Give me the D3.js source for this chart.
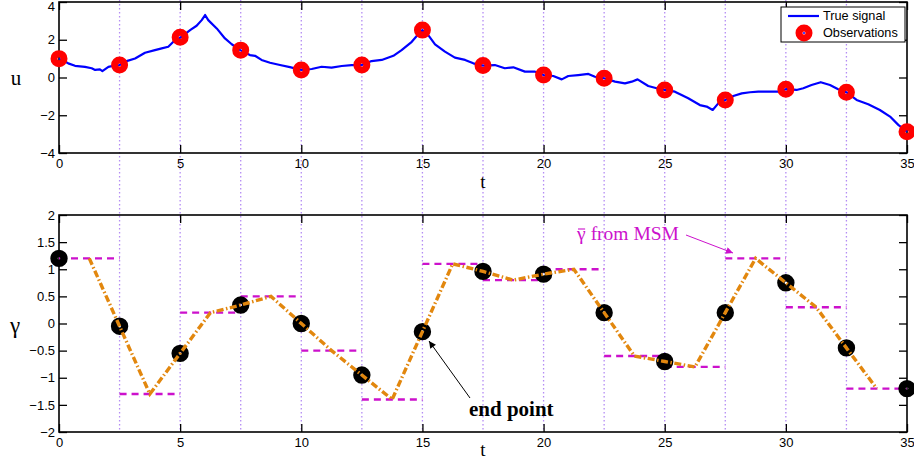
<!DOCTYPE html>
<html>
<head>
<meta charset="utf-8">
<script src="https://cdn.jsdelivr.net/npm/d3@7"></script>
<style>
  html, body { margin: 0; padding: 0; background: #fff; }
  svg { display: block; }
  .tick text { font-family: "Liberation Sans", Arial, sans-serif; font-size: 13px; fill: #000; }
</style>
</head>
<body>
<svg id="chart" width="914" height="464"></svg>
<script>
// ---- data ----
// true signal u(t)
const signalT = [0, 0.38, 0.66, 1.07, 1.35, 1.49, 1.69, 1.79, 2.04, 2.24, 2.5, 2.79, 3.14, 3.55, 3.96, 4.24, 4.51, 4.72, 5.03, 5.41, 5.68, 5.89, 6.03, 6.16, 6.51, 6.85, 7.13, 7.48, 7.88, 8.09, 8.36, 8.71, 9.12, 9.53, 10.0, 10.43, 10.84, 11.25, 11.67, 12.08, 12.5, 12.9, 13.32, 13.8, 14.14, 14.56, 14.8, 15.0, 15.24, 15.52, 15.93, 16.34, 16.76, 17.1, 17.5, 17.99, 18.4, 18.75, 19.23, 19.65, 20.0, 20.4, 20.75, 21.02, 21.43, 21.85, 22.12, 22.5, 22.95, 23.36, 23.64, 23.88, 24.32, 24.67, 25.0, 25.42, 25.97, 26.45, 26.73, 26.98, 27.21, 27.5, 27.83, 28.18, 28.52, 28.86, 29.34, 29.69, 30.0, 30.44, 30.72, 31.06, 31.44, 31.82, 32.16, 32.5, 32.92, 33.4, 33.88, 34.3, 34.64, 35.0];
const signalU = [1.0, 0.75, 0.62, 0.56, 0.49, 0.40, 0.43, 0.34, 0.56, 0.62, 0.66, 0.87, 1.01, 1.31, 1.45, 1.54, 1.63, 1.89, 2.13, 2.51, 2.74, 3.04, 3.31, 3.04, 2.6, 2.07, 1.76, 1.45, 1.19, 1.15, 0.93, 0.78, 0.66, 0.55, 0.40, 0.45, 0.57, 0.52, 0.61, 0.66, 0.66, 0.87, 0.93, 1.15, 1.45, 1.89, 2.25, 2.51, 2.25, 1.76, 1.37, 1.05, 0.93, 0.75, 0.63, 0.66, 0.49, 0.54, 0.31, 0.31, 0.13, 0.08, -0.10, 0.08, 0.13, 0.19, 0.04, -0.04, -0.22, -0.31, -0.22, -0.10, -0.45, -0.57, -0.66, -0.75, -1.10, -1.46, -1.54, -1.72, -1.37, -1.19, -0.98, -0.84, -0.78, -0.75, -0.75, -0.75, -0.62, -0.66, -0.57, -0.40, -0.25, -0.40, -0.62, -0.78, -1.19, -1.42, -1.72, -2.07, -2.51, -2.87];

// observation times and observed values
const obsT = [0, 2.5, 5, 7.5, 10, 12.5, 15, 17.5, 20, 22.5, 25, 27.5, 30, 32.5, 35];
const obsU = [1.0, 0.66, 2.13, 1.45, 0.40, 0.66, 2.51, 0.63, 0.13, -0.04, -0.66, -1.19, -0.62, -0.78, -2.87];

// gamma at observation times
const gammaObs = [1.2, -0.05, -0.55, 0.34, 0.0, -0.95, -0.15, 0.96, 0.91, 0.2, -0.7, 0.2, 0.75, -0.45, -1.2];
// interval averages of gamma from MSM, one per interval [obsT[i], obsT[i+1]]
const gammaBar = [1.2, -1.3, 0.2, 0.5, -0.5, -1.4, 1.1, 0.8, 1.0, -0.6, -0.8, 1.2, 0.3, -1.2];
// reconstructed gamma path
const recT = [1.25, 2.5, 3.75, 5, 6.25, 7.5, 8.75, 10, 11.25, 12.5, 13.75, 15, 16.25, 17.5, 18.75, 20, 21.25, 22.5, 23.75, 25, 26.25, 27.5, 28.75, 30, 31.25, 32.5, 33.75];
const recG = [1.2, -0.05, -1.3, -0.55, 0.2, 0.34, 0.5, 0.0, -0.5, -0.95, -1.4, -0.15, 1.1, 0.96, 0.8, 0.91, 1.0, 0.2, -0.6, -0.7, -0.8, 0.2, 1.2, 0.75, 0.3, -0.45, -1.2];

// axis ticks
const tTicks = [0, 5, 10, 15, 20, 25, 30, 35];
const uTicks = [-4, -2, 0, 2, 4];
const gTicks = [-2, -1.5, -1, -0.5, 0, 0.5, 1, 1.5, 2];
const gridT = [2.5, 5, 7.5, 10, 12.5, 15, 17.5, 20, 22.5, 25, 27.5, 30, 32.5];

// ---- layout ----
const svg = d3.select("#chart");
const x = d3.scaleLinear().domain([0, 35]).range([59, 907]);
const yU = d3.scaleLinear().domain([-4, 4]).range([153, 2]);
const yG = d3.scaleLinear().domain([-2, 2]).range([432, 215]);

const BLUE = "#0000ff", RED = "#ff0000", MAG = "#cc11cc", ORANGE = "#e2870e", GRID = "#b48cf4";

function drawAxes(y, ticks, fmt) {
  const g = svg.append("g");
  const top = y.range()[1], bottom = y.range()[0];
  g.append("g").attr("transform", `translate(0,${bottom})`)
    .call(d3.axisBottom(x).tickValues(tTicks).tickSize(-8).tickPadding(6).tickFormat(d3.format("d")));
  g.append("g").attr("transform", `translate(0,${top})`)
    .call(d3.axisTop(x).tickValues(tTicks).tickSize(-8).tickFormat(""));
  const left = g.append("g").attr("transform", `translate(${x.range()[0]},0)`)
    .call(d3.axisLeft(y).tickValues(ticks).tickSize(-8).tickPadding(4).tickFormat(fmt));
  g.append("g").attr("transform", `translate(${x.range()[1]},0)`)
    .call(d3.axisRight(y).tickValues(ticks).tickSize(-8).tickFormat(""));
  g.selectAll(".domain").remove();
  g.selectAll(".tick line").attr("stroke", "#000").attr("stroke-width", 1.3);
  g.append("rect").attr("x", x.range()[0]).attr("y", top)
    .attr("width", x.range()[1] - x.range()[0]).attr("height", bottom - top)
    .attr("fill", "none").attr("stroke", "#000").attr("stroke-width", 1.6);
  return left;
}

// vertical dotted lines at observation times, spanning both panels
svg.append("g").selectAll("line").data(gridT).join("line")
  .attr("x1", d => x(d)).attr("x2", d => x(d))
  .attr("y1", 0).attr("y2", yG(-2))
  .attr("stroke", GRID).attr("stroke-width", 1.3).attr("stroke-dasharray", "1.6,2.4");

// ---- top panel: u ----
const leftU = drawAxes(yU, uTicks, d3.format("d"));
// keep the topmost label inside the canvas
leftU.selectAll(".tick text").filter(d => d === 4).attr("dy", "0.62em");

const sig = signalT.map((t, i) => [t, signalU[i]]);
svg.append("path").datum(sig)
  .attr("d", d3.line().x(d => x(d[0])).y(d => yU(d[1])))
  .attr("fill", "none").attr("stroke", BLUE).attr("stroke-width", 2.2).attr("stroke-linejoin", "round");

svg.append("g").selectAll("circle").data(obsT.map((t, i) => [t, obsU[i]])).join("circle")
  .attr("cx", d => x(d[0])).attr("cy", d => yU(d[1])).attr("r", 5)
  .attr("fill", "none").attr("stroke", RED).attr("stroke-width", 7);

// legend
const lg = svg.append("g");
lg.append("rect").attr("x", 781).attr("y", 7).attr("width", 124).attr("height", 35)
  .attr("fill", "#fff").attr("stroke", "#000").attr("stroke-width", 1);
lg.append("line").attr("x1", 788).attr("x2", 819).attr("y1", 16).attr("y2", 16)
  .attr("stroke", BLUE).attr("stroke-width", 2.2);
lg.append("circle").attr("cx", 804).attr("cy", 33).attr("r", 5)
  .attr("fill", "none").attr("stroke", RED).attr("stroke-width", 7);
lg.append("circle").attr("cx", 804).attr("cy", 33).attr("r", 1).attr("fill", BLUE);
lg.selectAll("text").data([["True signal", 16], ["Observations", 33]]).join("text")
  .attr("x", 823).attr("y", d => d[1]).attr("dy", "0.35em")
  .attr("font-family", "Liberation Sans, Arial, sans-serif").attr("font-size", 12.7)
  .text(d => d[0]);

// axis titles, top panel
svg.append("text").attr("x", 16).attr("y", 85).attr("text-anchor", "middle")
  .attr("font-family", "Liberation Serif, serif").attr("font-size", 21).text("u");
svg.append("text").attr("x", 483).attr("y", 188).attr("text-anchor", "middle")
  .attr("font-family", "Liberation Serif, serif").attr("font-size", 19).text("t");

// ---- bottom panel: gamma ----
drawAxes(yG, gTicks, d => d3.format("")(d));

// MSM interval averages
svg.append("g").selectAll("line").data(gammaBar).join("line")
  .attr("x1", (d, i) => x(obsT[i])).attr("x2", (d, i) => x(obsT[i + 1]))
  .attr("y1", d => yG(d)).attr("y2", d => yG(d))
  .attr("stroke", MAG).attr("stroke-width", 2.4).attr("stroke-dasharray", "7,5");

// gamma at observation times
svg.append("g").selectAll("circle").data(obsT.map((t, i) => [t, gammaObs[i]])).join("circle")
  .attr("cx", d => x(d[0])).attr("cy", d => yG(d[1])).attr("r", 5)
  .attr("fill", "none").attr("stroke", "#000").attr("stroke-width", 7.4);

// reconstructed gamma path
svg.append("path").datum(recT.map((t, i) => [t, recG[i]]))
  .attr("d", d3.line().x(d => x(d[0])).y(d => yG(d[1])))
  .attr("fill", "none").attr("stroke", ORANGE).attr("stroke-width", 3.4)
  .attr("stroke-dasharray", "7,2.5,1.5,2.5");

// axis titles, bottom panel
svg.append("text").attr("x", 15).attr("y", 333).attr("text-anchor", "middle")
  .attr("font-family", "Liberation Serif, serif").attr("font-size", 23).text("γ");
svg.append("text").attr("x", 483).attr("y", 456).attr("text-anchor", "middle")
  .attr("font-family", "Liberation Serif, serif").attr("font-size", 19).text("t");

// annotations
const defs = svg.append("defs");
function arrowHead(id, color) {
  defs.append("marker").attr("id", id).attr("viewBox", "0 0 10 10")
    .attr("refX", 10).attr("refY", 5).attr("markerWidth", 10).attr("markerHeight", 7)
    .attr("markerUnits", "userSpaceOnUse").attr("orient", "auto")
    .append("path").attr("d", "M0,0 L10,5 L0,10 Z").attr("fill", color);
}
arrowHead("headBlack", "#000");
arrowHead("headMag", MAG);

svg.append("line").attr("x1", 470).attr("y1", 398).attr("x2", 429).attr("y2", 341)
  .attr("stroke", "#000").attr("stroke-width", 1).attr("marker-end", "url(#headBlack)");
svg.append("text").attr("x", 469).attr("y", 416)
  .attr("font-family", "Liberation Serif, serif").attr("font-weight", "bold").attr("font-size", 21)
  .text("end point");

svg.append("line").attr("x1", 686).attr("y1", 235).attr("x2", 733).attr("y2", 253)
  .attr("stroke", MAG).attr("stroke-width", 1).attr("marker-end", "url(#headMag)");

// "γ̄ from MSM": gamma with an overbar, followed by the rest of the label
const msm = svg.append("g").attr("font-family", "Liberation Serif, serif").attr("font-size", 19.5).attr("fill", MAG);
const gam = msm.append("text").attr("x", 577).attr("y", 240).text("γ");
const gw = gam.node().getComputedTextLength();
msm.append("line").attr("x1", 577 + 1).attr("x2", 577 + gw - 0.5).attr("y1", 229).attr("y2", 229)
  .attr("stroke", MAG).attr("stroke-width", 1.1);
msm.append("text").attr("x", 577 + gw + 5).attr("y", 240).text("from MSM");
</script>
</body>
</html>
